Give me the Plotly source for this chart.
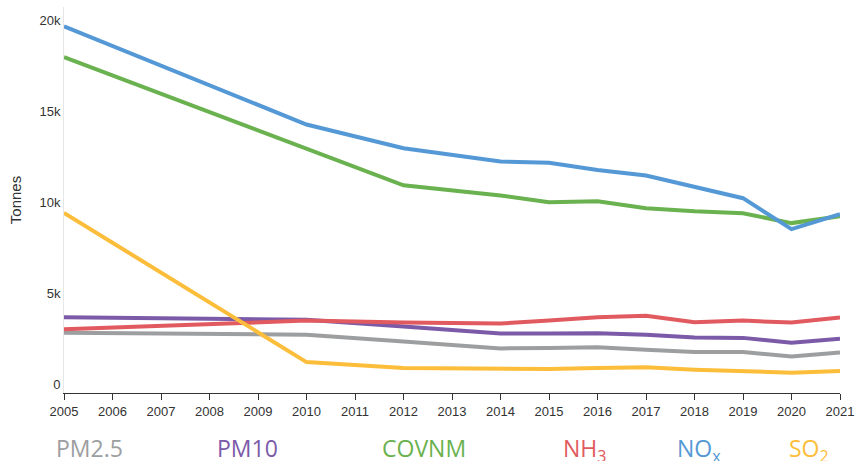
import plotly.graph_objects as go

years = [2005, 2010, 2012, 2014, 2015, 2016, 2017, 2018, 2019, 2020, 2021]

pm25 = [2850, 2740, 2370, 1990, 2010, 2050, 1920, 1790, 1790, 1550, 1770]
pm10 = [3710, 3560, 3200, 2810, 2810, 2830, 2740, 2590, 2570, 2300, 2520]
covnm = [18000, 13000, 10960, 10400, 10030, 10080, 9700, 9530, 9420, 8880, 9260]
nh3 = [3050, 3520, 3410, 3360, 3520, 3710, 3780, 3430, 3520, 3410, 3690]
nox = [19700, 14300, 13000, 12270, 12200, 11800, 11500, 10900, 10250, 8550, 9370]
so2 = [9440, 1240, 910, 840, 860, 910, 950, 820, 750, 660, 750]

series = [
    ("PM2.5", pm25, "#9c9ea0"),
    ("PM10", pm10, "#7b5aa8"),
    ("COVNM", covnm, "#6ab14f"),
    ("NH<sub>3</sub>", nh3, "#e15a5f"),
    ("NO<sub>x</sub>", nox, "#5499d6"),
    ("SO<sub>2</sub>", so2, "#fcbd3a"),
]

legend_x_px = [54, 215, 380, 561, 675, 787]

fig = go.Figure()
for name, vals, color in series:
    fig.add_trace(go.Scatter(x=years, y=vals, mode="lines", name=name,
                             line=dict(color=color, width=4), showlegend=False))

L, R = 64, 18
plot_w = 858 - L - R
for (name, vals, color), px in zip(series, legend_x_px):
    fig.add_annotation(text=name, xref="paper", yref="paper",
                       x=(px - L) / plot_w, y=-0.0956, xanchor="left", yanchor="top",
                       showarrow=False,
                       font=dict(family="Open Sans", size=23, color=color))

fig.update_layout(
    width=858, height=461,
    margin=dict(l=L, r=R, t=7, b=68, autoexpand=False),
    plot_bgcolor="white", paper_bgcolor="white",
    font=dict(family="Liberation Sans, Arial", size=13, color="#333"),
    xaxis=dict(range=[2005, 2021], tickmode="array", tickvals=list(range(2005, 2022)),
               showgrid=False, zeroline=False, showline=True, linecolor="#333", linewidth=1,
               ticks="outside", ticklen=6, tickcolor="#333", automargin=False,
               ticklabeloverflow="allow",
               tickfont=dict(size=13, color="#333")),
    yaxis=dict(range=[-460, 20760], tickvals=[0, 5000, 10000, 15000, 20000],
               ticktext=["0", "5k", "10k", "15k", "20k"], automargin=False,
               showgrid=False, zeroline=False, showline=True, linecolor="#e6e6e6", linewidth=1,
               ticks="", tickfont=dict(size=13, color="#333"),
               title=dict(text="Tonnes", font=dict(size=15, color="#333"), standoff=14)),
)

fig.write_html("out.html", config={"displayModeBar": False},
               post_script="document.body.style.margin='0px';document.body.style.overflow='hidden';")
